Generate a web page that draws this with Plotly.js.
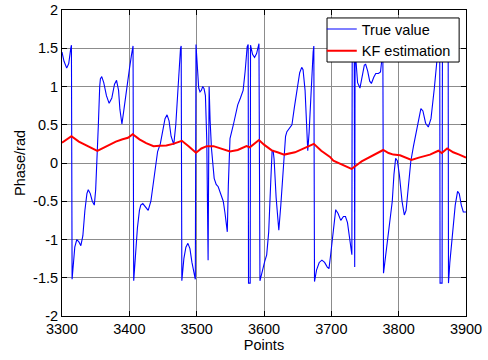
<!DOCTYPE html>
<html>
<head>
<meta charset="utf-8">
<script src="https://cdn.plot.ly/plotly-3.0.1.min.js"></script>
<style>html,body{margin:0;padding:0;background:#fff;}#chart{width:488px;height:360px;}</style>
</head>
<body>
<div id="chart"></div>
<script>
// True value (wrapped phase)
const trueX = [3300,3303,3307,3310,3313,3314,3315,3317,3319,3322,3325,3328,3331,3334,3337,3339,3342,3345,3348,3350,3352,3354,3356,3357,3359,3362,3366,3370,3374,3378,3381,3384,3386,3389,3392,3396,3400,3403,3405.5,3406.5,3409,3412,3415,3417,3420,3424,3428,3432,3436,3440,3442,3446,3450,3453,3456,3459,3462,3466,3469,3472,3476,3477,3478,3481,3484,3487,3490,3493,3496,3498,3499,3501,3503,3505,3507,3509,3511,3513,3515,3517,3518.5,3520,3522,3526,3529,3532,3536,3539.5,3542,3545.5,3547,3549.5,3554.5,3558,3561,3565,3569,3572,3575,3576.5,3577,3579.5,3580,3583,3586,3589,3592.5,3594,3597,3601,3604,3607,3610,3612,3613.5,3615,3618,3622,3625,3629,3632,3634,3638,3641.5,3645,3649,3653,3656,3658,3661,3663,3665,3667,3670,3673,3674,3675,3678,3682,3686,3690,3694,3696.5,3699,3703,3706.5,3710,3714,3718,3721,3724,3727,3730.5,3731,3734,3734.7,3735.3,3736.5,3739,3742.5,3746,3749,3751,3754,3757,3759.5,3763,3766,3770,3773,3775,3776.5,3777.5,3780,3783,3787,3790.5,3793,3795.5,3798,3801,3805,3808.4,3811,3814,3818,3822,3826,3830,3833,3836,3840,3844,3848,3853,3856,3858,3861,3861.5,3864.5,3865,3873.5,3874,3876,3880,3884,3887.5,3890,3893,3896,3900];
const trueY = [1.45,1.33,1.24,1.30,1.50,1.54,-1.52,-1.30,-1.10,-1.00,-1.03,-1.08,-0.95,-0.62,-0.40,-0.35,-0.40,-0.50,-0.55,-0.35,0.0,0.5,1.0,1.10,1.13,1.05,0.88,0.78,0.85,1.03,1.08,0.95,0.70,0.51,0.70,1.0,1.22,1.40,1.53,-1.54,-1.20,-0.85,-0.62,-0.55,-0.53,-0.58,-0.62,-0.50,-0.25,0.05,0.15,0.25,0.45,0.58,0.63,0.55,0.35,0.24,0.50,0.95,1.50,1.53,-1.54,-1.25,-1.10,-1.05,-1.12,-1.30,-1.45,-1.52,1.55,1.25,0.98,0.93,0.95,1.0,0.97,0.88,0.3,-1.27,1.0,0.55,0.19,-0.2,-0.28,-0.31,-0.40,-0.5,-0.65,-0.90,-0.3,0.32,0.50,0.65,0.76,0.85,0.95,1.2,1.52,1.55,-1.57,-1.57,1.54,1.42,1.38,1.43,1.56,-1.54,-1.42,-1.29,-1.2,-0.9,-0.25,0.15,0.17,0.05,-0.45,-0.88,-0.55,0.06,0.35,0.41,0.46,0.50,0.72,0.98,1.18,1.25,1.22,0.95,0.45,0.16,0.40,1.0,1.45,1.53,-1.55,-1.40,-1.30,-1.27,-1.30,-1.36,-1.38,-1.20,-0.85,-0.61,-0.66,-0.75,-0.70,-0.70,-0.78,-0.95,-1.20,1.56,1.56,-1.36,1.56,1.35,1.05,0.98,1.15,1.28,1.29,1.20,1.07,1.04,1.12,1.17,1.17,1.19,1.35,1.56,-1.44,-1.25,-1.0,-0.72,-0.5,-0.15,0.06,0.03,-0.15,-0.5,-0.68,-0.62,-0.35,0.02,0.22,0.41,0.62,0.71,0.68,0.52,0.47,0.58,0.98,1.25,1.45,1.57,-1.57,-1.57,1.57,1.57,-1.57,-1.30,-0.95,-0.55,-0.37,-0.40,-0.55,-0.64,-0.64];

// KF estimation
const kfX = [3300,3314,3325,3335,3345,3352.5,3360,3370,3380,3390,3398,3405,3415,3425,3436,3445,3455,3465,3478,3488,3499,3507,3515,3525,3535,3549.5,3561,3574,3579,3585,3592.5,3600,3611.5,3620,3630,3646,3656,3666,3674,3685,3698,3703,3715,3730,3745,3760,3777,3785,3792,3802,3810,3819,3830,3846.5,3859,3864,3872,3881,3890,3900];
const kfY = [0.265,0.35,0.28,0.23,0.19,0.157,0.19,0.24,0.28,0.31,0.33,0.375,0.31,0.26,0.22,0.225,0.23,0.25,0.29,0.22,0.135,0.19,0.22,0.22,0.19,0.15,0.17,0.22,0.205,0.25,0.30,0.24,0.165,0.14,0.11,0.14,0.18,0.22,0.25,0.16,0.08,0.03,-0.02,-0.078,0.02,0.09,0.17,0.13,0.11,0.10,0.07,0.04,0.07,0.11,0.16,0.13,0.19,0.14,0.11,0.07];

const xTicks = [3300,3400,3500,3600,3700,3800,3900];
const yTicks = [-2,-1.5,-1,-0.5,0,0.5,1,1.5,2];
const seriesNames = ['True value','KF estimation'];

const font = {family:'Liberation Sans, Arial, sans-serif', size:14.5, color:'#000'};
const legendFont = {family:'Liberation Sans, Arial, sans-serif', size:14.5, color:'#000'};

const traces = [
  {x:trueX, y:trueY, type:'scatter', mode:'lines', name:seriesNames[0], line:{color:'#0000ff', width:1.1}},
  {x:kfX, y:kfY, type:'scatter', mode:'lines', name:seriesNames[1], line:{color:'#ff0000', width:2}}
];

const axisCommon = {
  showline:true, linecolor:'#000', linewidth:1, mirror:'ticks',
  ticks:'inside', ticklen:5, tickcolor:'#000', tickwidth:1,
  showgrid:true, gridcolor:'#8c8c8c', gridwidth:1, zeroline:false,
  tickfont:font
};

const layout = {
  width:488, height:360,
  margin:{l:62, r:22, t:10, b:44},
  paper_bgcolor:'#fff', plot_bgcolor:'#fff',
  font:font,
  showlegend:true,
  legend:{x:0.643, y:0.99, xanchor:'left', yanchor:'top', bgcolor:'rgba(0,0,0,0)', bordercolor:'rgba(0,0,0,0)', borderwidth:0, font:legendFont, tracegroupgap:0},
  shapes:[{type:'rect', xref:'paper', yref:'paper', x0:0.656, x1:0.983, y0:0.830, y1:0.974, layer:'above', fillcolor:'#fff', line:{color:'#000', width:1}}],
  xaxis:Object.assign({}, axisCommon, {range:[3300,3900], tickvals:xTicks, ticktext:xTicks.map(String), title:{text:'Points', font:font, standoff:2}}),
  yaxis:Object.assign({}, axisCommon, {range:[-2,2], tickvals:yTicks, ticktext:yTicks.map(String), title:{text:'Phase/rad', font:font, standoff:4}})
};

Plotly.newPlot('chart', traces, layout, {displayModeBar:false, staticPlot:true});
</script>
</body>
</html>
